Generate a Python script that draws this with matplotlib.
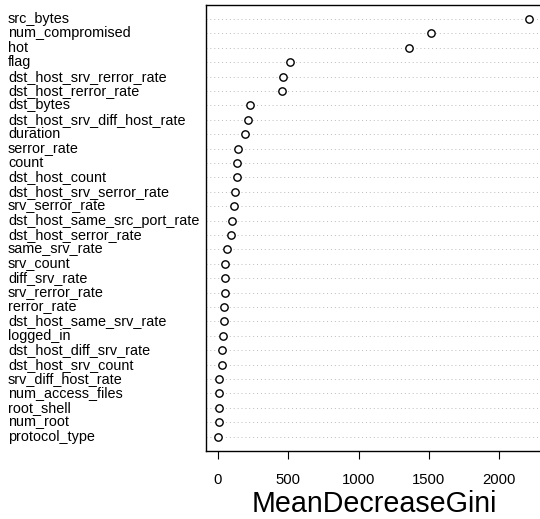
import matplotlib
matplotlib.use("Agg")
import matplotlib.pyplot as plt

plt.rcParams['font.family'] = ['Liberation Sans', 'DejaVu Sans']

# variables, most important first (as listed top to bottom)
features = [
    "src_bytes", "num_compromised", "hot", "flag", "dst_host_srv_rerror_rate",
    "dst_host_rerror_rate", "dst_bytes", "dst_host_srv_diff_host_rate", "duration",
    "serror_rate", "count", "dst_host_count", "dst_host_srv_serror_rate",
    "srv_serror_rate", "dst_host_same_src_port_rate", "dst_host_serror_rate",
    "same_srv_rate", "srv_count", "diff_srv_rate", "srv_rerror_rate", "rerror_rate",
    "dst_host_same_srv_rate", "logged_in", "dst_host_diff_srv_rate",
    "dst_host_srv_count", "srv_diff_host_rate", "num_access_files", "root_shell",
    "num_root", "protocol_type",
]
gini = [
    2214, 1513, 1358, 512, 462,
    455, 228, 216, 192,
    142, 135, 133, 121,
    112, 102, 90,
    66, 52, 52, 48, 45,
    40, 38, 28,
    27, 7, 6, 5,
    4, 3,
]
x_ticks = [0, 500, 1000, 1500, 2000]

n = len(features)
ypos = [n - i for i in range(n)]

fig = plt.figure(figsize=(5.40, 5.19), dpi=100)
ax = fig.add_axes([206 / 540, 1 - 451 / 519, 335.7 / 540, 446.3 / 519])

for y in ypos:
    ax.axhline(y, color="#bbbbbb", linestyle=(0, (1, 3)), linewidth=0.7, zorder=1)
ax.scatter(gini, ypos, s=28, facecolors="white", edgecolors="black", linewidths=1.0, zorder=3)

ax.set_xlim(-85, 2302)
ax.set_ylim(0, n + 1)
ax.set_yticks([])
ax.set_xticks(x_ticks)
ax.tick_params(axis="x", labelsize=10.7, length=6, pad=10, width=0.8, colors="black")
for side in ax.spines.values():
    side.set_linewidth(1.0)
ax.set_xlabel("MeanDecreaseGini", fontsize=20.6, labelpad=2)

for name, y in zip(features, ypos):
    fig.text(8 / 540, ax.transData.transform((0, y))[1] / 519, name,
             fontsize=10.4, ha="left", va="center")

fig.savefig("out.png", dpi=100)
